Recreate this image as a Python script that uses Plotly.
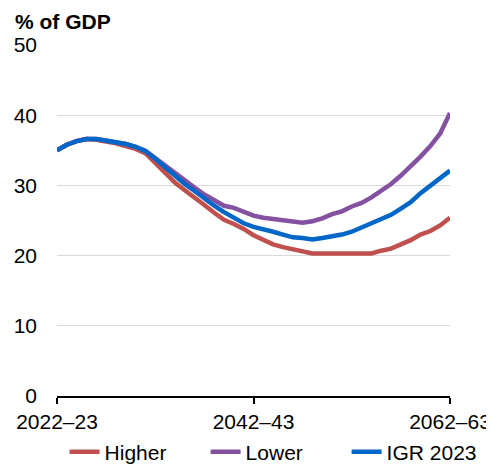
import plotly.graph_objects as go

years = [f"{y}–{str(y + 1)[-2:]}" for y in range(2022, 2063)]

higher = [35.0, 35.8, 36.3, 36.6, 36.5, 36.3, 36.0, 35.6, 35.2, 34.6,
          33.2, 31.8, 30.4, 29.3, 28.3, 27.2, 26.1, 25.1, 24.5, 23.8,
          22.9, 22.2, 21.6, 21.2, 20.9, 20.5, 20.3, 20.3, 20.3, 20.3,
          20.3, 20.3, 20.3, 20.7, 21.0, 21.6, 22.2, 23.0, 23.5, 24.3, 25.4]

lower = [35.0, 35.8, 36.3, 36.6, 36.6, 36.4, 36.2, 35.9, 35.5, 34.9,
         33.9, 32.8, 31.7, 30.7, 29.7, 28.7, 27.9, 27.1, 26.8, 26.3,
         25.7, 25.4, 25.2, 25.0, 24.8, 24.7, 24.9, 25.3, 25.9, 26.3,
         27.0, 27.5, 28.3, 29.2, 30.2, 31.4, 32.7, 34.1, 35.6, 37.4, 40.3]

igr2023 = [35.0, 35.8, 36.3, 36.6, 36.6, 36.4, 36.2, 35.9, 35.5, 34.9,
           33.8, 32.6, 31.2, 30.2, 29.2, 28.1, 27.1, 26.2, 25.4, 24.6,
           24.1, 23.8, 23.4, 23.0, 22.6, 22.5, 22.3, 22.5, 22.7, 23.0,
           23.4, 24.0, 24.5, 25.1, 25.8, 26.7, 27.6, 28.9, 30.0, 31.1, 32.1]

y_ticks = [0, 10, 20, 30, 40, 50]
x_ticks = [years[0], years[20], years[40]]

series = [("Higher", higher, "#C0504D"),
          ("Lower", lower, "#8451A1"),
          ("IGR 2023", igr2023, "#0066C8")]

FONT = "Liberation Sans, Arial, sans-serif"

# page body has an 8px margin, so the figure is sized/placed to compensate
W, H = 486, 459
fig = go.Figure()
for name, vals, color in series:
    fig.add_trace(go.Scatter(x=years, y=vals, name=name, mode="lines",
                             line=dict(color=color, width=4.5)))

fig.update_layout(
    width=W, height=H,
    margin=dict(l=49, r=44, t=37, b=71, autoexpand=False),
    paper_bgcolor="white", plot_bgcolor="white",
    font=dict(family=FONT, size=21, color="black"),
    title=dict(text="<b>% of GDP</b>", x=7 / W, xanchor="left",
               xref="container", y=1 - 14 / H, yanchor="middle",
               yref="container", pad=dict(l=0, r=0, t=0, b=0),
               font=dict(size=21, family=FONT)),
    showlegend=True,
    legend=dict(orientation="h", x=-0.001, xanchor="left",
                y=-56 / 351, yanchor="middle",
                font=dict(size=21, family=FONT),
                entrywidth=88, entrywidthmode="pixels",
                indentation=8, traceorder="normal"),
    xaxis=dict(type="category", range=[0, 40], tickvals=x_ticks,
               ticktext=x_ticks, showgrid=False, showline=True,
               linecolor="black", linewidth=1.5, ticks="outside",
               ticklen=6, tickwidth=1.5, tickcolor="black",
               tickfont=dict(size=21), zeroline=False, automargin=False),
    yaxis=dict(range=[0, 50], tickvals=y_ticks, showgrid=True,
               gridcolor="#D9D9D9", gridwidth=1, showline=False,
               zeroline=False, ticks="", tickfont=dict(size=21),
               ticklabelstandoff=19, automargin=False),
)

fig.write_html("out.html")
